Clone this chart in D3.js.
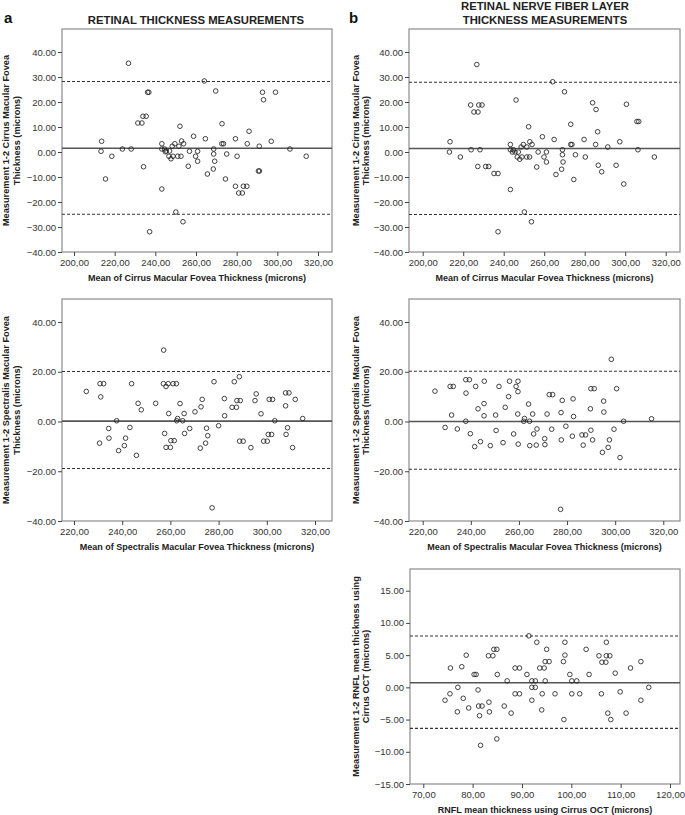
<!DOCTYPE html>
<html><head><meta charset="utf-8">
<script src="https://cdn.jsdelivr.net/npm/d3@7"></script>
<style>body{margin:0;background:#fff}svg{display:block;font-family:"Liberation Sans",Arial,Helvetica,sans-serif}</style>
</head><body><svg id="c" width="685" height="815"></svg>
<script>
// ---- Data ----
// Panel a, top: Cirrus macular fovea thickness (Bland-Altman)
const cirrusA_mean = [226.8,264.1,269.7,236.2,236.8,292.7,299.1,293.2,233.9,235.5,231.4,233.4,272.8,252.1,286.1,258.8,264.6,279.4,213.6,252.9,297.0,243.2,249.6,253.9,272.7,273.5,285.2,251.6,248.3,291.1,223.8,228.1,243.2,244.5,245.4,247.0,268.7,306.2,213.3,256.8,260.8,244.9,268.7,275.1,218.6,246.7,248.7,251.0,252.6,259.8,280.2,314.2,247.7,260.8,269.2,234.2,256.2,268.5,290.7,291.2,265.6,215.5,274.5,279.4,283.3,285.0,281.0,282.8,243.2,250.1,253.6,237.2];
const cirrusA_diff = [35.5,28.4,24.4,23.9,23.9,23.9,23.9,20.9,14.3,14.3,11.6,11.6,11.3,10.3,8.3,6.3,5.3,5.3,4.3,4.4,4.3,3.3,3.3,3.3,3.3,3.3,3.3,2.3,2.3,2.3,1.2,1.2,1.2,1.2,0.4,0.4,1.2,1.2,0.3,0.3,0.3,0.1,-0.8,-0.8,-1.7,-1.7,-1.7,-1.7,-1.7,-1.7,-1.7,-1.7,-2.7,-3.7,-3.7,-5.9,-5.7,-6.8,-7.6,-7.6,-8.8,-10.8,-10.8,-13.7,-13.7,-13.7,-16.4,-16.4,-14.8,-24.0,-27.9,-31.9];
const cirrusA_lines = [28.2, 1.5, -24.9];

// Panel b, top: Cirrus macular fovea thickness
const cirrusB_mean = [226.7,264.2,270.0,223.7,227.7,229.3,225.3,227.3,246.1,283.9,300.6,285.6,305.8,306.7,273.1,252.3,286.4,259.1,264.9,279.7,213.5,252.9,297.3,243.3,249.7,254.0,273.1,273.7,285.4,248.6,251.4,291.4,223.9,228.3,243.3,244.8,269.0,306.3,213.2,244.3,245.6,247.2,257.0,261.1,269.0,275.4,218.6,246.7,249.0,251.4,252.8,259.9,280.3,314.4,247.9,261.1,269.3,227.2,231.1,232.6,256.3,286.7,295.5,268.6,288.4,235.2,237.2,265.8,274.6,299.3,243.3,250.2,253.7,237.2];
const cirrusB_diff = [35.0,28.1,24.1,18.8,18.8,18.8,16.0,16.0,20.8,19.7,19.1,17.0,12.2,12.2,11.1,10.1,8.1,6.1,5.0,5.0,4.1,4.1,4.1,3.0,3.0,3.0,3.0,3.0,3.0,2.0,2.0,2.0,0.9,0.9,0.9,0.9,0.9,0.9,0.0,0.0,0.0,0.0,0.0,0.0,-1.1,-1.1,-2.0,-2.0,-2.0,-2.0,-2.0,-2.0,-2.0,-2.0,-2.9,-4.0,-4.0,-5.8,-5.8,-5.8,-6.0,-5.3,-5.3,-6.9,-7.9,-8.6,-8.6,-9.0,-11.0,-12.8,-15.0,-24.0,-27.9,-31.9];
const cirrusB_lines = [27.9, 1.4, -25.0];

// Panel a, middle: Spectralis macular fovea thickness
const spectA_mean = [257.2,225.1,230.8,232.3,231.1,243.9,257.1,258.2,259.1,261.1,262.5,278.1,286.5,288.6,246.6,247.9,253.9,264.0,273.2,282.4,287.6,289.0,285.6,287.4,272.7,270.2,259.3,265.7,282.5,295.1,295.6,297.6,301.0,302.4,307.8,307.8,309.2,311.8,314.9,237.7,263.0,262.6,265.1,303.3,234.4,243.2,268.0,275.0,280.0,308.6,230.6,234.5,238.5,240.9,241.4,245.9,257.6,258.2,260.0,260.2,261.6,265.9,272.4,274.6,275.5,288.7,290.2,293.4,298.7,300.2,300.6,302.0,308.0,310.7,277.3];
const spectA_diff = [28.7,12.1,15.2,15.2,9.9,15.2,15.2,14.1,15.2,15.2,15.2,16.0,16.0,18.0,7.3,4.7,7.3,7.2,8.9,9.2,8.4,8.4,5.7,5.7,5.9,3.9,3.2,3.2,2.3,8.4,11.1,3.1,8.9,8.9,6.3,11.5,11.5,8.9,1.2,0.3,1.2,0.3,0.3,0.3,-2.8,-2.4,-2.8,-2.7,-1.7,-2.5,-8.7,-6.7,-11.7,-9.7,-6.7,-13.6,-4.8,-10.4,-10.4,-7.7,-7.7,-4.8,-10.7,-8.7,-5.7,-7.9,-7.9,-10.5,-7.9,-7.9,-5.2,-5.2,-5.2,-10.5,-34.7];
const spectA_lines = [20.1, 0.15, -18.9];

// Panel b, middle: Spectralis macular fovea thickness
const spectB_mean = [225.1,231.4,232.7,237.9,239.4,238.0,245.6,242.0,251.7,256.1,259.6,258.8,259.6,255.7,272.6,274.0,289.9,291.3,300.6,245.5,243.0,254.3,264.0,278.0,282.5,289.7,295.2,295.3,277.5,232.0,245.5,250.3,259.5,265.7,271.7,282.7,262.3,237.9,262.0,264.4,303.5,315.1,229.3,234.4,250.5,267.5,273.6,279.5,289.9,299.5,239.8,257.8,266.1,286.2,287.7,282.2,270.7,277.6,290.6,297.6,241.6,244.0,248.1,253.4,259.7,264.5,267.2,270.8,286.7,297.1,294.7,302.0,277.3,298.4];
const spectB_diff = [12.2,14.1,14.1,16.8,16.8,11.4,16.2,14.1,14.1,16.2,16.2,14.1,12.0,10.0,10.8,10.8,13.2,13.2,13.2,7.2,5.1,5.7,7.0,8.5,9.1,5.1,8.2,3.8,3.6,2.6,2.3,2.6,3.0,3.0,3.0,2.0,1.2,0.1,0.1,0.1,0.1,1.1,-2.4,-3.0,-3.6,-3.0,-3.1,-1.9,-3.5,-3.1,-4.9,-5.0,-5.0,-5.4,-5.4,-5.9,-6.9,-7.4,-7.4,-7.4,-10.1,-8.1,-9.7,-8.5,-9.1,-9.7,-9.5,-9.3,-9.5,-10.4,-12.4,-14.5,-35.3,25.0];
const spectB_lines = [20.2, 0.0, -19.2];

// Panel b, bottom: RNFL mean thickness using Cirrus OCT
const rnfl_mean = [91.4,93.0,98.7,107.1,95.0,103.0,78.7,83.2,84.1,84.3,84.9,98.7,105.6,107.1,107.8,98.4,94.7,95.5,106.2,107.0,114.1,75.5,77.8,88.6,89.5,93.6,94.5,112.0,80.3,80.7,85.0,91.0,99.7,103.6,108.9,87.0,92.0,92.7,94.7,100.1,101.1,77.0,92.0,92.7,115.7,81.1,75.4,88.6,89.5,94.1,96.7,100.1,101.7,106.1,109.9,74.4,78.1,92.0,114.1,79.2,81.2,81.9,83.3,86.4,76.9,81.4,83.4,87.8,94.0,107.4,111.1,98.5,108.0,84.9,81.6];
const rnfl_diff = [8.0,7.0,7.0,7.0,5.9,5.9,5.0,4.9,4.9,5.9,5.9,5.0,4.9,4.9,4.9,4.0,4.0,4.0,3.9,3.9,4.0,3.0,3.2,3.0,3.0,3.0,3.0,3.0,2.0,2.0,2.0,2.0,2.0,2.0,2.2,1.0,1.0,1.0,1.0,1.0,1.0,0.0,0.0,0.0,0.0,-0.4,-1.0,-1.0,-1.0,-1.0,-1.0,-1.0,-1.0,-1.0,-0.7,-2.0,-1.7,-2.0,-2.0,-3.2,-2.9,-2.9,-2.3,-2.9,-3.8,-4.4,-3.8,-4.0,-3.5,-4.0,-4.0,-5.0,-5.0,-8.0,-9.0];
const rnfl_lines = [7.97, 0.72, -6.36];

// Tick values
const ticksMacY = [-40,-30,-20,-10,0,10,20,30,40];
const ticksSpecY = [-40,-20,0,20,40];
const ticksRnflY = [-15,-10,-5,0,5,10,15];
const ticksCirrusX = [200,220,240,260,280,300,320];
const ticksSpecX = [220,240,260,280,300,320];
const ticksRnflX = [70,80,90,100,110,120];

// Text
const titleA = "RETINAL THICKNESS MEASUREMENTS";
const titleB = ["RETINAL NERVE FIBER LAYER", "THICKNESS MEASUREMENTS"];
const yTitleCirrus = ["Measurement 1-2 Cirrus Macular Fovea", "Thickness (microns)"];
const yTitleSpec = ["Measurement 1-2 Spectralis Macular Fovea", "Thickness (microns)"];
const yTitleRnfl = ["Measurement 1-2 RNFL mean thickness using", "Cirrus OCT (microns)"];
const xTitleCirrus = "Mean of Cirrus Macular Fovea Thickness (microns)";
const xTitleSpec = "Mean of Spectralis Macular Fovea Thickness (microns)";
const xTitleRnfl = "RNFL mean thickness using Cirrus OCT (microns)";

// ---- Drawing ----
const svg = d3.select("#c");
const fmtY = d3.format(".2f");
const fmtX = d => d3.format(".2f")(d).replace(".", ",");

function panel(cfg) {
  const g = svg.append("g");
  const x = d3.scaleLinear().domain(cfg.xDom).range(cfg.xRange);
  const y = d3.scaleLinear().domain(cfg.yDom).range(cfg.yRange);
  const [L, R] = cfg.frameX, [T, B] = cfg.frameY;

  // frame
  g.append("rect").attr("x", L).attr("y", T).attr("width", R - L).attr("height", B - T)
    .attr("fill", "none").attr("stroke", "#8c8c8c").attr("stroke-width", 1.2);

  // axes
  const ya = g.append("g").attr("transform", `translate(${L},0)`)
    .call(d3.axisLeft(y).tickValues(cfg.yTicks).tickFormat(fmtY).tickSize(4).tickSizeOuter(0).tickPadding(2));
  const xa = g.append("g").attr("transform", `translate(0,${B})`)
    .call(d3.axisBottom(x).tickValues(cfg.xTicks).tickFormat(fmtX).tickSize(4).tickSizeOuter(0).tickPadding(3));
  [ya, xa].forEach(a => {
    a.select(".domain").remove();
    a.selectAll(".tick line").attr("stroke", "#444");
    a.selectAll("text").attr("fill", "#333").style("font-size", "9.5px");
  });

  // reference lines (upper LoA, mean, lower LoA)
  const lines = cfg.lines;
  g.selectAll(".ref").data(lines).enter().append("line")
    .attr("x1", L).attr("x2", R)
    .attr("y1", d => y(d)).attr("y2", d => y(d))
    .attr("stroke", (d, i) => i === 1 ? "#555" : "#333")
    .attr("stroke-width", (d, i) => i === 1 ? 1.6 : 1.1)
    .attr("stroke-dasharray", (d, i) => i === 1 ? null : "3,2");

  // points
  g.selectAll("circle.pt").data(cfg.xs.map((v, i) => [v, cfg.ys[i]])).enter().append("circle")
    .attr("cx", d => x(d[0])).attr("cy", d => y(d[1])).attr("r", 2.3)
    .attr("fill", "none").attr("stroke", "#222").attr("stroke-width", 0.85);

  // y title (two lines, rotated)
  const cy = (T + B) / 2;
  cfg.yTitle.forEach((t, i) => {
    g.append("text").attr("transform", `translate(${cfg.yTitleX[i]},${cy}) rotate(-90)`)
      .attr("text-anchor", "middle").style("font-size", "9.2px").style("font-weight", "bold")
      .attr("fill", "#222").text(t);
  });
  // x title
  g.append("text").attr("x", (L + R) / 2).attr("y", B + 29)
    .attr("text-anchor", "middle").style("font-size", "9px").style("font-weight", "bold")
    .attr("fill", "#222").text(cfg.xTitle);
}

panel({ xDom:[200,320], xRange:[74,318], yDom:[-40,40], yRange:[252,52], frameX:[62,332], frameY:[29,252],
  yTicks: ticksMacY, xTicks: ticksCirrusX, lines: cirrusA_lines, xs: cirrusA_mean, ys: cirrusA_diff,
  yTitle: yTitleCirrus, yTitleX:[9,20], xTitle: xTitleCirrus });
panel({ xDom:[200,320], xRange:[422.7,665.7], yDom:[-40,40], yRange:[252,52], frameX:[409,680], frameY:[29,252],
  yTicks: ticksMacY, xTicks: ticksCirrusX, lines: cirrusB_lines, xs: cirrusB_mean, ys: cirrusB_diff,
  yTitle: yTitleCirrus, yTitleX:[358.5,369], xTitle: xTitleCirrus });
panel({ xDom:[220,320], xRange:[74,315], yDom:[-40,40], yRange:[521,322], frameX:[62,332], frameY:[299,521],
  yTicks: ticksSpecY, xTicks: ticksSpecX, lines: spectA_lines, xs: spectA_mean, ys: spectA_diff,
  yTitle: yTitleSpec, yTitleX:[9,20], xTitle: xTitleSpec });
panel({ xDom:[220,320], xRange:[422.7,663.3], yDom:[-40,40], yRange:[521,322], frameX:[409,680], frameY:[299,521],
  yTicks: ticksSpecY, xTicks: ticksSpecX, lines: spectB_lines, xs: spectB_mean, ys: spectB_diff,
  yTitle: yTitleSpec, yTitleX:[358.5,369], xTitle: xTitleSpec });
panel({ xDom:[70,120], xRange:[423.3,670], yDom:[-15,15], yRange:[784,590.7], frameX:[410,680], frameY:[569,784],
  yTicks: ticksRnflY, xTicks: ticksRnflX, lines: rnfl_lines, xs: rnfl_mean, ys: rnfl_diff,
  yTitle: yTitleRnfl, yTitleX:[358.5,369], xTitle: xTitleRnfl });

// Panel labels and titles
svg.append("text").attr("x", 4).attr("y", 23).style("font-size", "15px").style("font-weight", "bold").attr("fill", "#111").text("a");
svg.append("text").attr("x", 349).attr("y", 23).style("font-size", "15px").style("font-weight", "bold").attr("fill", "#111").text("b");
svg.append("text").attr("x", 196).attr("y", 24).attr("text-anchor", "middle")
  .style("font-size", "11.3px").style("font-weight", "bold").attr("fill", "#222").text(titleA);
titleB.forEach((t, i) => {
  svg.append("text").attr("x", 545).attr("y", 10 + i * 14).attr("text-anchor", "middle")
    .style("font-size", "11.3px").style("font-weight", "bold").attr("fill", "#222").text(t);
});
</script></body></html>
